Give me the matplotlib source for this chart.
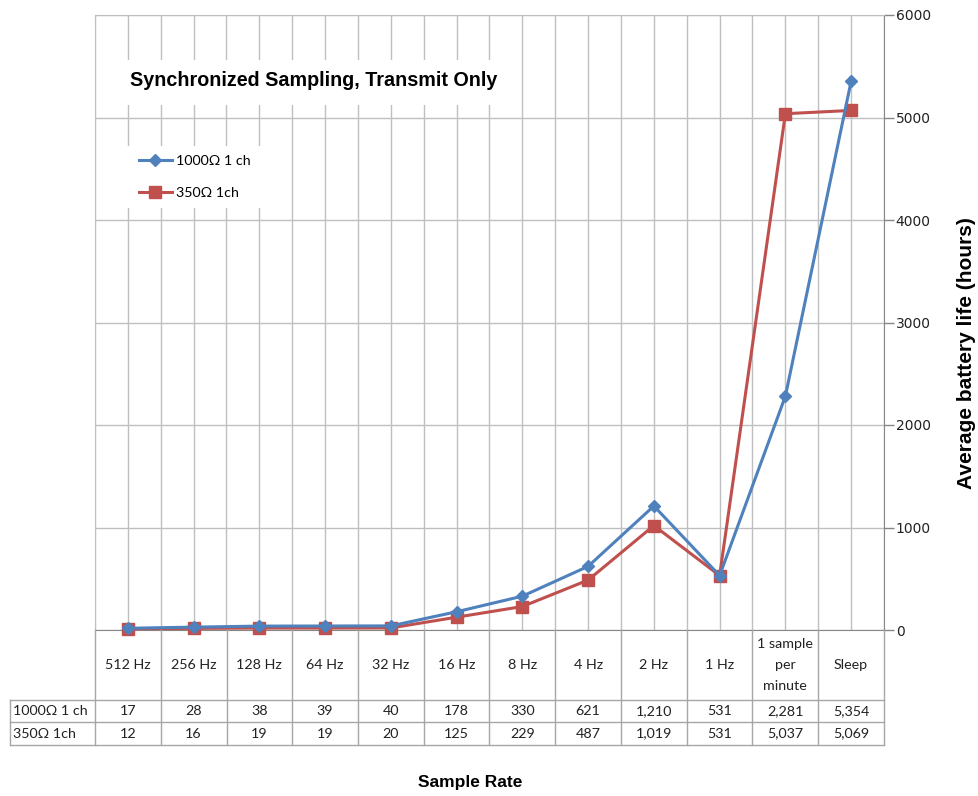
import matplotlib
matplotlib.use("Agg")
import matplotlib.pyplot as plt
from matplotlib.lines import Line2D
from matplotlib.patches import Rectangle

categories = ["512 Hz", "256 Hz", "128 Hz", "64 Hz", "32 Hz", "16 Hz", "8 Hz",
              "4 Hz", "2 Hz", "1 Hz", "1 sample\nper\nminute", "Sleep"]
series_names = ["1000\u03a9 1 ch", "350\u03a9 1ch"]
s1000 = [17, 28, 38, 39, 40, 178, 330, 621, 1210, 531, 2281, 5354]
s350 = [12, 16, 19, 19, 20, 125, 229, 487, 1019, 531, 5037, 5069]
yticks = [0, 1000, 2000, 3000, 4000, 5000, 6000]

W, H = 979, 796
BLUE = "#4F81BD"
RED = "#C0504D"
GRID = "#BFBFBF"
TBL = "#A6A6A6"
FONT = ["Lato", "DejaVu Sans"]
BOLD = ["Liberation Sans", "DejaVu Sans"]
TXT = "#222222"

def fx(px):
    return px / W

def fy(py):
    return 1 - py / H

fig = plt.figure(figsize=(W / 100, H / 100), dpi=100)
L, R, T, B = 95, 884, 15, 630
ax = fig.add_axes([fx(L), fy(B), fx(R) - fx(L), fy(T) - fy(B)])
n = len(categories)
x = list(range(n))
ax.set_xlim(-0.5, n - 0.5)
ax.set_ylim(0, 6000)

def ax_x(px):
    return (px - L) / (R - L)

def ax_y(py):
    return (B - py) / (B - T)

ax.set_xticks(x)
ax.set_xticks([i - 0.5 for i in range(n + 1)], minor=True)
ax.tick_params(axis="x", which="both", length=0, labelbottom=False)
ax.grid(True, which="both", axis="x", color=GRID, lw=1)
ax.grid(True, which="major", axis="y", color=GRID, lw=1)
ax.set_axisbelow(True)

ax.yaxis.tick_right()
ax.set_yticks(yticks)
ax.tick_params(axis="y", length=7, width=1, color="#868686", labelsize=10, pad=1.5,
               labelcolor=TXT)
for lab in ax.get_yticklabels():
    lab.set_fontfamily(["DejaVu Sans"])
for side in ["top", "left"]:
    ax.spines[side].set_color(GRID)
ax.spines["bottom"].set_color("#868686")
ax.spines["right"].set_color("#868686")

ax.plot(x, s1000, color=BLUE, lw=2.2, marker="D", ms=6.5, label=series_names[0], zorder=4,
        clip_on=False)
ax.plot(x, s350, color=RED, lw=2.2, marker="s", ms=9, label=series_names[1], zorder=3,
        clip_on=False)

# white boxes behind title and legend (hide the gridlines)
for (x0, y0, x1, y1) in [(104, 60, 506, 105), (110, 146, 266, 208)]:
    ax.add_patch(Rectangle((ax_x(x0), ax_y(y1)), ax_x(x1) - ax_x(x0), ax_y(y0) - ax_y(y1),
                           transform=ax.transAxes, facecolor="white", edgecolor="none",
                           zorder=1.5))

ax.text(ax_x(130), ax_y(81), "Synchronized Sampling, Transmit Only", transform=ax.transAxes,
        fontsize=14.2, fontweight="bold", family=BOLD, va="center", ha="left", zorder=6)

leg = ax.legend(loc="upper left", bbox_to_anchor=(ax_x(139), ax_y(155)), frameon=False,
                prop={"family": FONT, "size": 10.3}, handlelength=2.3, handletextpad=0.3,
                labelspacing=1.4, borderpad=0.0, borderaxespad=0.0)
leg.set_zorder(6)

fig.text(fx(967), fy(353), "Average battery life (hours)", rotation=90, ha="center",
         va="center", fontsize=15, fontweight="bold", family=BOLD)

# data table
cw = (R - L) / n
H0, H1, R1, R2 = B, 700, 722, 745
LX = 10
def hline(y, x0, x1):
    fig.add_artist(Line2D([fx(x0), fx(x1)], [fy(y), fy(y)], color=TBL, lw=1))
def vline(xp, y0, y1):
    fig.add_artist(Line2D([fx(xp), fx(xp)], [fy(y0), fy(y1)], color=TBL, lw=1))

hline(H1, LX, R)
hline(R1, LX, R)
hline(R2, LX, R)
vline(LX, H1, R2)
for i in range(n + 1):
    vline(L + i * cw, H0, R2)

for i, c in enumerate(categories):
    cx = L + (i + 0.5) * cw
    fig.text(fx(cx), fy((H0 + H1) / 2), c, ha="center", va="center", fontsize=10.3,
             family=FONT, linespacing=1.85, color=TXT)
    fig.text(fx(cx), fy((H1 + R1) / 2), f"{s1000[i]:,}", ha="center", va="center",
             fontsize=10.3, family=FONT, color=TXT)
    fig.text(fx(cx), fy((R1 + R2) / 2), f"{s350[i]:,}", ha="center", va="center",
             fontsize=10.3, family=FONT, color=TXT)
fig.text(fx(LX + 3), fy((H1 + R1) / 2), series_names[0], ha="left", va="center",
         fontsize=10.3, family=FONT, color=TXT)
fig.text(fx(LX + 3), fy((R1 + R2) / 2), series_names[1], ha="left", va="center",
         fontsize=10.3, family=FONT, color=TXT)

fig.text(fx(470), fy(782), "Sample Rate", ha="center", va="center", fontsize=12.5,
         fontweight="bold", family=BOLD)

fig.savefig("out.png", dpi=100, facecolor="white")
